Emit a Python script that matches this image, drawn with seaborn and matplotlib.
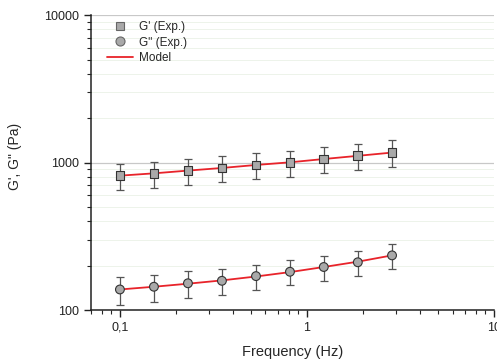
import numpy as np
import pandas as pd
import matplotlib
matplotlib.use("Agg")
import matplotlib.pyplot as plt
import matplotlib.ticker as mticker
from matplotlib.lines import Line2D
import seaborn as sns

# data
freq = [0.1, 0.152, 0.231, 0.351, 0.534, 0.811, 1.23, 1.87, 2.85]
g_storage = [816, 846, 883, 920, 964, 1005, 1060, 1115, 1175]
g_storage_err = [165, 170, 176, 184, 193, 200, 212, 223, 240]
g_loss = [138, 144, 152, 158, 170, 182, 196, 211, 235]
g_loss_err = [30, 30, 31, 32, 33, 35, 38, 41, 45]
model_storage = [816, 846, 883, 920, 964, 1005, 1058, 1112, 1170]
model_loss = [138, 144, 151, 159, 169, 181, 196, 213, 235]

sns.set_style("ticks")
plt.rcParams['font.family'] = ['Liberation Sans', 'DejaVu Sans']

fig = plt.figure(figsize=(4.97, 3.61), dpi=100)
ax = fig.add_axes([0.183, 0.141, 0.811, 0.817])

df_exp = pd.DataFrame({
    "freq": freq + freq,
    "G": g_storage + g_loss,
    "err": g_storage_err + g_loss_err,
    "kind": ["G' (Exp.)"] * len(freq) + ['G" (Exp.)'] * len(freq),
})
df_model = pd.DataFrame({
    "freq": freq + freq,
    "G": model_storage + model_loss,
    "curve": ["s"] * len(freq) + ["l"] * len(freq),
})

# error bars
for kind, sub in df_exp.groupby("kind"):
    ax.errorbar(sub["freq"], sub["G"], yerr=sub["err"], fmt="none",
                ecolor="#555555", elinewidth=0.9, capsize=3, capthick=0.9, zorder=2)

# model lines
sns.lineplot(data=df_model, x="freq", y="G", units="curve", estimator=None,
             color="#e8232a", lw=1.3, ax=ax, zorder=3, legend=False)

# markers
sns.scatterplot(data=df_exp, x="freq", y="G", style="kind",
                markers={"G' (Exp.)": "s", 'G" (Exp.)': "o"},
                color="#a9a9a9", edgecolor="#333333", linewidth=0.8, s=40,
                ax=ax, zorder=4, legend=False)

ax.set_xscale("log")
ax.set_yscale("log")
ax.set_xlim(0.07, 10)
ax.set_ylim(100, 10000)

ax.xaxis.set_major_locator(mticker.FixedLocator([0.1, 1, 10]))
ax.xaxis.set_major_formatter(mticker.FixedFormatter(["0,1", "1", "10"]))
ax.xaxis.set_minor_locator(mticker.LogLocator(base=10, subs=np.arange(2, 10)))
ax.xaxis.set_minor_formatter(mticker.NullFormatter())
ax.yaxis.set_major_locator(mticker.FixedLocator([100, 1000, 10000]))
ax.yaxis.set_major_formatter(mticker.FixedFormatter(["100", "1000", "10000"]))
ax.yaxis.set_minor_locator(mticker.LogLocator(base=10, subs=np.arange(2, 10)))
ax.yaxis.set_minor_formatter(mticker.NullFormatter())

ax.tick_params(axis="both", which="major", length=5, width=1, labelsize=9, colors="#222222")
ax.tick_params(axis="both", which="minor", length=3, width=0.8)

ax.yaxis.grid(True, which="major", color="#c8c8c8", lw=0.9)
ax.yaxis.grid(True, which="minor", color="#edf3ea", lw=0.7)
ax.set_axisbelow(True)

sns.despine(ax=ax, top=True, right=True)
for sp in ["left", "bottom"]:
    ax.spines[sp].set_linewidth(1.1)
    ax.spines[sp].set_color("#222222")

ax.set_xlabel("Frequency (Hz)", fontsize=10.5, labelpad=8)
ax.set_ylabel('G\', G" (Pa)', fontsize=10)
ax.yaxis.set_label_coords(-0.17, 0.52)

# legend
handles = [
    Line2D([], [], ls="none", marker="s", ms=5.5, mfc="#a9a9a9", mec="#666666", mew=0.8),
    Line2D([], [], ls="none", marker="o", ms=6.5, mfc="#a9a9a9", mec="#666666", mew=0.8),
    Line2D([], [], color="#e8232a", lw=1.3),
]
ax.legend(handles, ["G' (Exp.)", 'G" (Exp.)', "Model"], loc="upper left",
          bbox_to_anchor=(0.025, 1.0), frameon=False, fontsize=8.5,
          handlelength=2.2, handletextpad=0.5, labelspacing=0.3, borderaxespad=0.1)

fig.savefig("out.png", dpi=100)
